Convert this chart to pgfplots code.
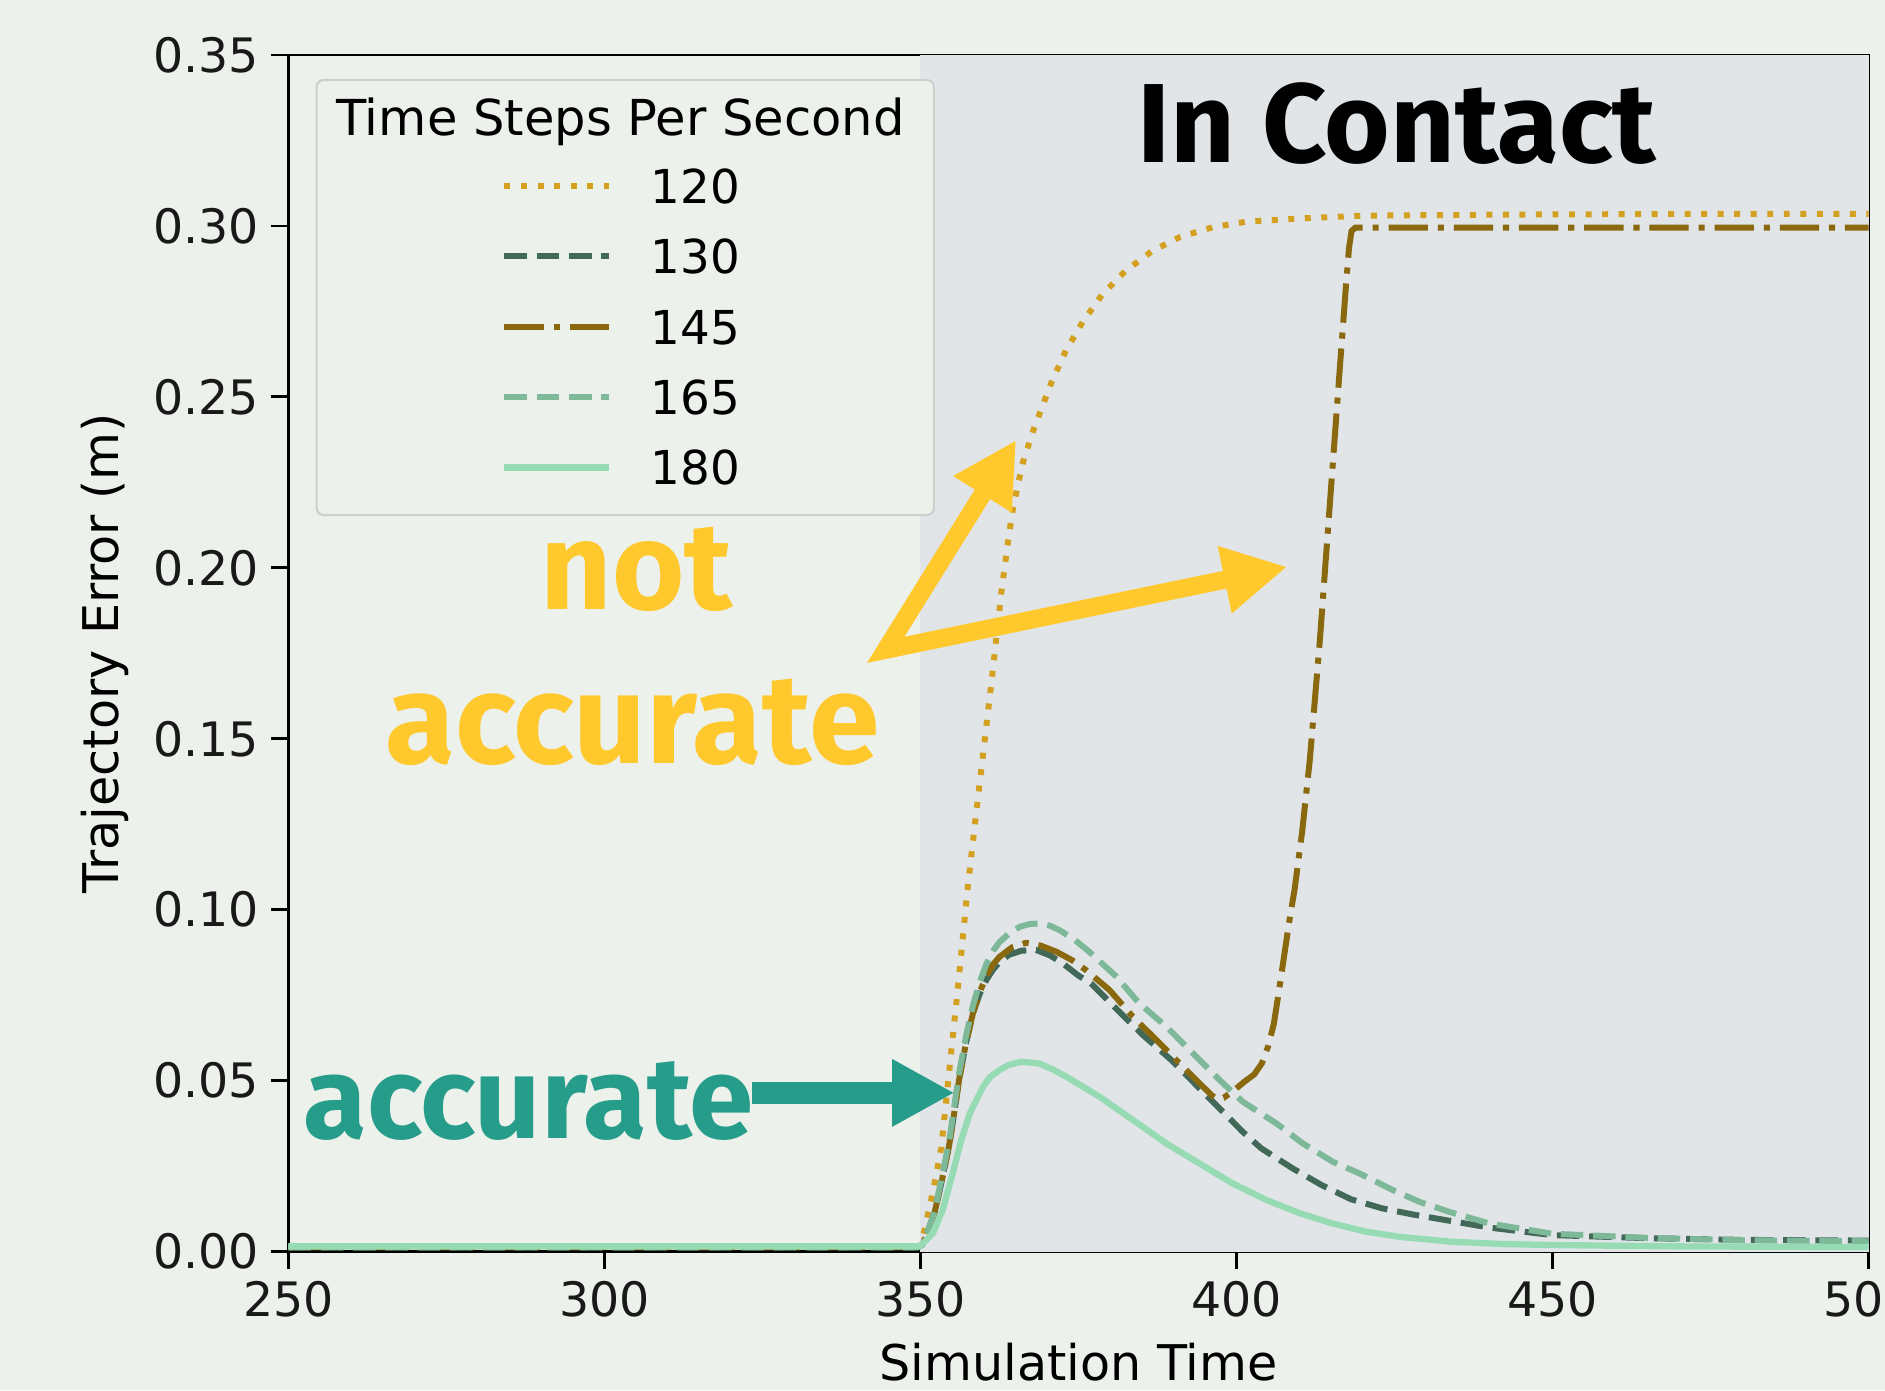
\documentclass[border=0pt]{standalone}
\usepackage{fontspec}
\setmainfont{DejaVu Sans}
\newfontfamily\annot{Fira Sans}
\usepackage{pgfplots}
\pgfplotsset{compat=1.18}
\usetikzlibrary{arrows.meta}

\definecolor{pagebg}{RGB}{237,241,235}
\definecolor{shadecol}{RGB}{225,229,232}
\definecolor{c120}{RGB}{212,160,32}
\definecolor{c130}{RGB}{66,105,88}
\definecolor{c145}{RGB}{138,104,14}
\definecolor{c165}{RGB}{125,184,152}
\definecolor{c180}{RGB}{150,219,180}
\definecolor{anngold}{RGB}{255,201,46}
\definecolor{annteal}{RGB}{38,156,138}
\definecolor{legedge}{RGB}{205,209,206}

\begin{document}
\begin{tikzpicture}
\path[use as bounding box, fill=pagebg] (-2.885cm,-1.385cm) rectangle (15.965cm,12.515cm);
\begin{axis}[
  at={(0,0)}, anchor=south west,
  scale only axis, width=15.80cm, height=11.965cm,
  xmin=250, xmax=500, ymin=0, ymax=0.35,
  xtick={250,300,350,400,450,500},
  ytick={0,0.05,0.1,0.15,0.2,0.25,0.3,0.35},
  scaled y ticks=false,
  yticklabel style={/pgf/number format/.cd, fixed, fixed zerofill, precision=2},
  /pgf/number format/assume math mode=true,
  tick align=outside, major tick length=0.17cm, tick pos=left,
  axis line style={line width=0.8pt, black},
  every tick/.style={black, line width=0.8pt},
  tick label style={font=\fontsize{13.5}{14}\selectfont, text=black!90},
  label style={font=\fontsize{14}{16}\selectfont},
  xlabel={Simulation Time},
  ylabel={Trajectory Error (m)},
  xlabel style={at={(axis description cs:0.5,0)}, anchor=base, yshift=-1.285cm},
  ylabel style={at={(axis description cs:-0.1073,0.5)}, anchor=base},
  axis background/.style={fill=pagebg},
  clip=false,
  legend style={draw=none, fill=none,
    at={(axis description cs:0.1347,0.9053)}, anchor=north west,
    inner sep=0pt, outer sep=0pt,
    row sep=0.355cm, column sep=0.38cm,
    font=\fontsize{13.3}{14}\selectfont,
    nodes={inner sep=0pt, outer sep=0pt, text height=0.349cm, text depth=0pt},
    cells={anchor=west}},
  legend image code/.code={\draw[#1] (0cm,0cm) -- (1.05cm,0cm);},
]
% In-contact shading
\addplot[forget plot, draw=none, fill=shadecol] coordinates {(350,0.35) (500,0.35)} \closedcycle;
% legend frame and title
\draw[legedge, fill=pagebg, rounded corners=0.07cm, line width=0.6pt]
  (axis description cs:0.0178,0.6155) rectangle (axis description cs:0.4085,0.9791);
\node[anchor=base, font=\fontsize{14.1}{16}\selectfont] at (axis description cs:0.2101,0.9331) {Time Steps Per Second};

\addplot[c120, line width=1.7pt, dash pattern=on 1.7pt off 3.0pt] coordinates {
(250,0.0015) (300,0.0015) (349.5,0.0015) (350,0.0018) (350.6,0.006) (352,0.0178) (353.3,0.0305) (354.6,0.0538) (355.7,0.0733) (356.7,0.0918) (357.5,0.107) (358.8,0.128) (360,0.147) (361.5,0.171) (362.8,0.193) (363.8,0.207) (364.6,0.217) (365.5,0.225) (366.3,0.2315) (368,0.241) (370.8,0.2546) (373,0.2635) (375.7,0.272) (378.7,0.2798) (382.4,0.2868) (386.6,0.2926) (391.1,0.2968) (396.2,0.2996) (401.4,0.3012) (410,0.3022) (420,0.3030) (440,0.3033) (470,0.3035) (500,0.3035)};
\addlegendentry{120}

\addplot[c130, line width=1.7pt, dash pattern=on 6.4pt off 2.8pt] coordinates {
(250,0.0012) (349.5,0.0012) (350.3,0.002) (351,0.005) (352.2,0.0112) (353.3,0.020) (354.5,0.0307) (355.3,0.040) (356.1,0.0502) (357.2,0.061) (358.3,0.0697) (359.4,0.0755) (360.4,0.0794) (361.5,0.0825) (362.5,0.0847) (364,0.0868) (366,0.0880) (368.3,0.0882) (370.5,0.0866) (372.5,0.0843) (375,0.0807) (377,0.0784) (381.2,0.0706) (385.2,0.0633) (389.7,0.0560) (393.9,0.0482) (398.1,0.0404) (401,0.0350) (403.9,0.0302) (408.9,0.0243) (413.4,0.0195) (418.1,0.0153) (423.1,0.0126) (428,0.0108) (433.7,0.0090) (440,0.0070) (450,0.0048) (465,0.0039) (480,0.0034) (500,0.0032)};
\addlegendentry{130}

\addplot[c145, line width=1.7pt, dash pattern=on 11.2pt off 2.8pt on 1.75pt off 2.8pt] coordinates {
(250,0.0012) (349.5,0.0012) (350.3,0.002) (351,0.005) (352.2,0.0112) (353.3,0.020) (354.5,0.0307) (355.3,0.040) (356.1,0.0502) (357.2,0.061) (358.3,0.0697) (359.4,0.0760) (360.4,0.0805) (361.5,0.0840) (362.5,0.0862) (364.5,0.0890) (366.7,0.0903) (369,0.0895) (371.5,0.0877) (374,0.0852) (376.2,0.0823) (379.9,0.0765) (383.6,0.0687) (387.3,0.0619) (391.5,0.0541) (394.7,0.0482) (396.2,0.0455) (397.0,0.0446) (398.0,0.0450) (399.5,0.0470) (401.2,0.0496) (402.8,0.0518) (404.0,0.0550) (405.0,0.0600) (405.9,0.0665) (406.7,0.0760) (407.5,0.0860) (408.3,0.0960) (409.2,0.1060) (410.4,0.1230) (411.6,0.1438) (413.2,0.1790) (414.8,0.2194) (416.4,0.2597) (417.3,0.2820) (417.8,0.2935) (418.2,0.2985) (418.8,0.2995) (430,0.2995) (500,0.2995)};
\addlegendentry{145}

\addplot[c165, line width=1.7pt, dash pattern=on 6.4pt off 2.8pt] coordinates {
(250,0.0012) (349.5,0.0012) (350.3,0.002) (351,0.005) (352.2,0.0115) (353.3,0.021) (354.5,0.032) (355.3,0.042) (356.1,0.052) (357.2,0.063) (358.3,0.072) (359.4,0.079) (360.4,0.084) (361.5,0.088) (362.5,0.0905) (364,0.093) (365.7,0.0950) (367.3,0.0958) (368.8,0.0960) (370.5,0.0953) (372,0.0940) (374.5,0.0910) (376.7,0.0877) (381,0.0804) (384.6,0.0726) (388.9,0.0658) (393.1,0.0580) (397.3,0.0502) (401,0.0438) (406.3,0.0375) (410.5,0.0316) (415.2,0.0263) (419.4,0.0229) (424.7,0.0180) (429,0.0145) (433.7,0.0116) (440,0.0082) (450,0.0052) (465,0.0040) (480,0.0033) (500,0.0030)};
\addlegendentry{165}

\addplot[c180, line width=1.8pt] coordinates {
(250,0.0015) (349.5,0.0015) (349.9,0.0016) (351,0.0035) (352,0.0055) (353.5,0.0121) (355.1,0.0229) (356.45,0.0326) (357.8,0.0404) (359.9,0.0482) (361,0.0510) (362.5,0.0531) (364,0.0546) (365.9,0.0555) (368.8,0.0550) (371,0.0532) (373.1,0.0511) (378.3,0.0453) (383.6,0.0385) (388.9,0.0316) (394.1,0.0258) (399.4,0.0199) (404.7,0.0151) (410,0.0112) (415.2,0.0082) (420.5,0.0058) (425.8,0.0043) (433.7,0.0029) (442,0.0022) (450,0.0019) (470,0.0015) (500,0.0013)};
\addlegendentry{180}

% annotations
\node[anchor=base, font={\annot\bfseries\fontsize{32}{34}\selectfont}] at (axis cs:425.4,0.3185) {In Contact};
\node[anchor=base, text=anngold, font={\annot\bfseries\fontsize{35.3}{37}\selectfont}] at (axis cs:305.1,0.1879) {not};
\node[anchor=base, text=anngold, font={\annot\bfseries\fontsize{36.2}{38}\selectfont}] at (axis cs:304.45,0.1428) {accurate};
\node[anchor=base, text=annteal, font={\annot\bfseries\fontsize{33}{35}\selectfont}] at (axis cs:288.0,0.0331) {accurate};
\draw[anngold, line width=0.18cm, line join=miter,
  {Triangle[length=0.64cm,width=0.64cm]}-{Triangle[length=0.64cm,width=0.64cm]}]
  (axis cs:365.15,0.2374) -- (axis cs:344.5,0.176) -- (axis cs:408.05,0.2003);
\draw[annteal, line width=0.217cm, -{Triangle[length=0.625cm,width=0.63cm]}]
  (axis cs:323.3,0.0464) -- (axis cs:355.4,0.0464);
\end{axis}
\end{tikzpicture}
\end{document}
